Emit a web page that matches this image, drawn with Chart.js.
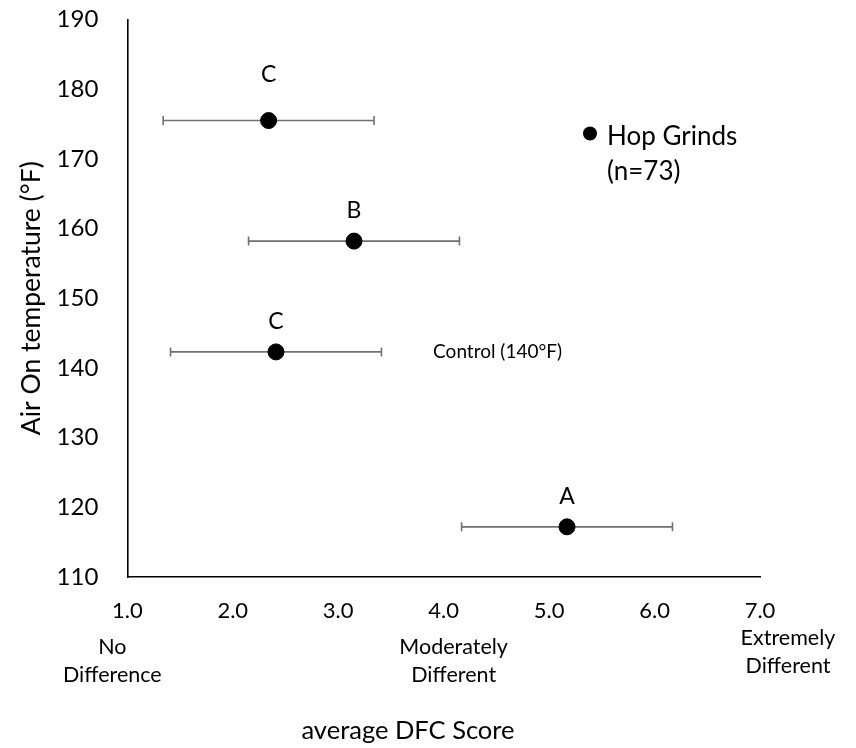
<!DOCTYPE html>
<html>
<head>
<meta charset="utf-8">
<script src="https://cdn.jsdelivr.net/npm/chart.js@4.4.1/dist/chart.umd.min.js"></script>
<style>
  html, body { margin: 0; padding: 0; background: #fff; }
  #wrap { width: 856px; height: 748px; }
</style>
</head>
<body>
<div id="wrap"><canvas id="dfcChart" width="856" height="748"></canvas></div>
<script>
// average DFC score per air-on temperature, with +/- error and significance letters
const scores = [2.34, 3.15, 2.41, 5.17];
const temps = [175.5, 158.2, 142.3, 117.2];
const scoreErr = [1.0, 1.0, 1.0, 1.0];
const groupLetters = ['C', 'B', 'C', 'A'];

const xTicks = [1, 2, 3, 4, 5, 6, 7];
const yTicks = [110, 120, 130, 140, 150, 160, 170, 180, 190];

// verbal anchors under the score axis
const anchorScores = [1, 4, 7];
const anchorText = [['No', 'Difference'], ['Moderately', 'Different'], ['Extremely', 'Different']];

const FONT = 'Lato';

const errorBars = {
  id: 'errorBars',
  beforeDatasetsDraw(chart) {
    const { ctx, scales: { x, y } } = chart;
    ctx.save();
    ctx.strokeStyle = '#707070';
    ctx.lineWidth = 1.6;
    scores.forEach((s, i) => {
      const py = y.getPixelForValue(temps[i]);
      const x0 = x.getPixelForValue(s - scoreErr[i]);
      const x1 = x.getPixelForValue(s + scoreErr[i]);
      ctx.beginPath();
      ctx.moveTo(x0, py); ctx.lineTo(x1, py);
      ctx.moveTo(x0, py - 4.5); ctx.lineTo(x0, py + 4.5);
      ctx.moveTo(x1, py - 4.5); ctx.lineTo(x1, py + 4.5);
      ctx.stroke();
    });
    ctx.restore();
  }
};

const annotations = {
  id: 'annotations',
  afterDraw(chart) {
    const { ctx, scales: { x, y } } = chart;
    ctx.save();
    ctx.fillStyle = '#000';
    ctx.textAlign = 'center';
    ctx.textBaseline = 'middle';

    // significance letters above each point
    const lift = [46, 31, 30, 30];
    ctx.font = `23px ${FONT}`;
    groupLetters.forEach((l, i) => {
      ctx.fillText(l, x.getPixelForValue(scores[i]), y.getPixelForValue(temps[i]) - lift[i]);
    });

    // control note beside the 140°F point
    ctx.font = `19px ${FONT}`;
    ctx.textAlign = 'left';
    ctx.fillText('Control (140°F)', x.getPixelForValue(3.9), y.getPixelForValue(temps[2]));

    // scale anchors
    ctx.textAlign = 'center';
    ctx.font = `21.5px ${FONT}`;
    const shift = [[-15, 647], [10, 647], [28, 638]];
    anchorScores.forEach((v, i) => {
      const cx = x.getPixelForValue(v) + shift[i][0];
      anchorText[i].forEach((line, j) => {
        ctx.fillText(line, cx, shift[i][1] + j * 28.5);
      });
    });

    // x axis title
    ctx.font = `25.5px ${FONT}`;
    ctx.fillText('average DFC Score', 408, 731);

    // legend
    ctx.beginPath();
    ctx.arc(590, 133.5, 7, 0, Math.PI * 2);
    ctx.fill();
    ctx.textAlign = 'left';
    ctx.font = `26px ${FONT}`;
    ctx.fillText('Hop Grinds', 607, 136.5);
    ctx.fillText('(n=73)', 607, 171.5);
    ctx.restore();
  }
};

new Chart(document.getElementById('dfcChart'), {
  type: 'scatter',
  data: {
    datasets: [{
      label: 'Hop Grinds (n=73)',
      data: scores.map((s, i) => ({ x: s, y: temps[i] })),
      backgroundColor: '#000',
      borderColor: '#000',
      pointRadius: 8,
      pointHoverRadius: 8
    }]
  },
  options: {
    responsive: false,
    animation: false,
    layout: { padding: { top: 19.5, right: 96, left: 0, bottom: 0 } },
    plugins: { legend: { display: false }, tooltip: { enabled: false } },
    scales: {
      x: {
        type: 'linear',
        min: 1, max: 7,
        afterBuildTicks: scale => { scale.ticks = xTicks.map(v => ({ value: v })); },
        afterFit: scale => { scale.height = 171; },
        grid: { display: false, drawTicks: false },
        border: { display: true, color: '#000', width: 1.6 },
        ticks: {
          color: '#000',
          font: { family: FONT, size: 22 },
          padding: 21,
          callback: v => Number(v).toFixed(1)
        }
      },
      y: {
        min: 110, max: 190,
        afterBuildTicks: scale => { scale.ticks = yTicks.map(v => ({ value: v })); },
        afterFit: scale => {
          scale.width = 127.3;
          // label padding would otherwise push the plot top down
          scale.paddingTop = 0;
          scale.paddingBottom = 0;
        },
        grid: { display: false, drawTicks: false },
        border: { display: true, color: '#000', width: 1.6 },
        ticks: {
          color: '#000',
          font: { family: FONT, size: 24 },
          padding: 29
        },
        title: {
          display: true,
          text: 'Air On temperature (°F)',
          color: '#000',
          font: { family: FONT, size: 26.5 },
          padding: { top: 16, bottom: 0 }
        }
      }
    }
  },
  plugins: [errorBars, annotations]
});
</script>
</body>
</html>
